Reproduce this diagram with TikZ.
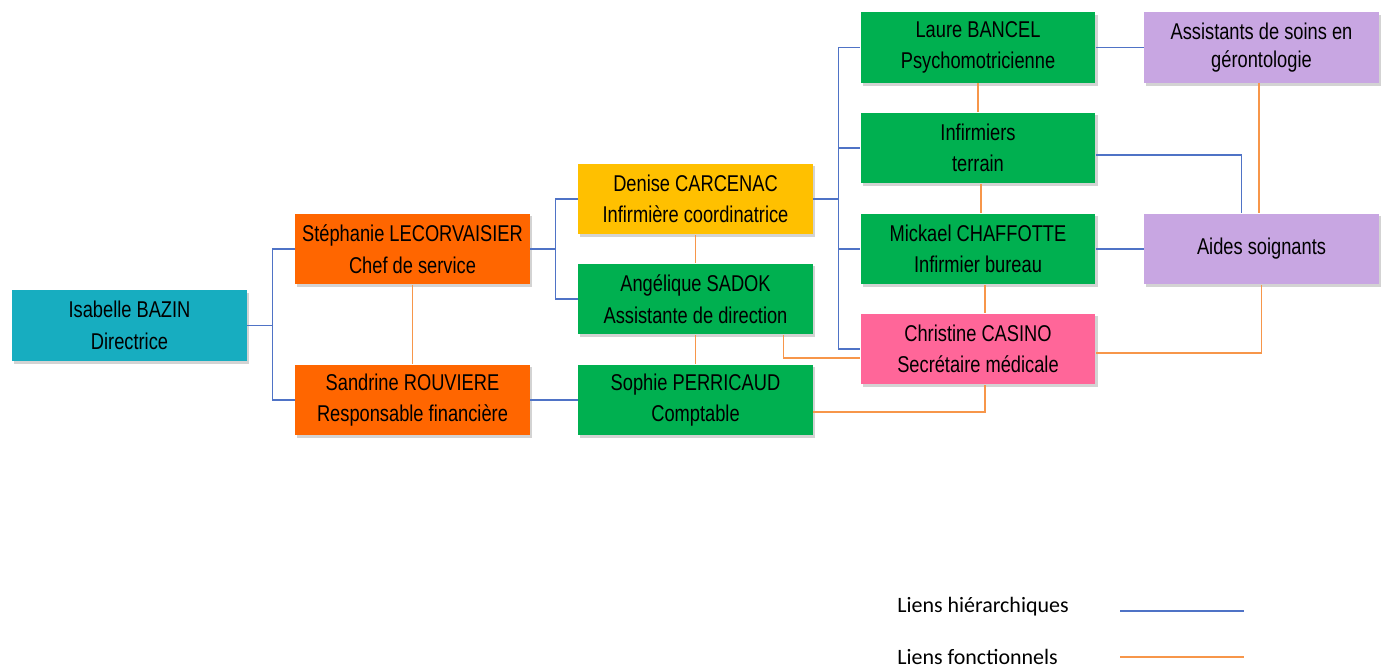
\documentclass[tikz,border=0pt]{standalone}
\usepackage{fontspec}
\usepackage{tikz}
\usetikzlibrary{shadows}
\newfontfamily\boxfont[FakeStretch=0.8]{Liberation Sans}
\newfontfamily\legfont{Carlito}

\definecolor{teal}{HTML}{17ADC0}
\definecolor{orangebox}{HTML}{FF6600}
\definecolor{yellowbox}{HTML}{FFC000}
\definecolor{greenbox}{HTML}{00B050}
\definecolor{pinkbox}{HTML}{FF6699}
\definecolor{lilac}{HTML}{C8A6E2}
\definecolor{hierblue}{HTML}{4F73C6}
\definecolor{fonctor}{HTML}{F7964A}

\tikzset{
	poste/.style={minimum width=4.7cm, minimum height=1.42cm, inner sep=0pt,
		align=center, font=\boxfont\fontsize{13}{18}\selectfont,
		drop shadow={shadow xshift=1.2pt, shadow yshift=-1.5pt, opacity=0.35}},
	hier/.style={hierblue, line width=0.8pt},
	fonct/.style={fonctor, line width=0.8pt},
}

\begin{document}
\begin{tikzpicture}[x=0.02cm, y=-0.02cm]
	
	\useasboundingbox (0,0) rectangle (1387,669);
	
	\node[poste, fill=teal] (bazin) at (129.5,325.5) {Isabelle BAZIN\\Directrice};
	\node[poste, fill=orangebox] (lecorv) at (412.5,249) {Stéphanie LECORVAISIER\\Chef de service};
	\node[poste, fill=orangebox] (rouv) at (412.5,400) {Sandrine ROUVIERE\\Responsable financière};
	\node[poste, fill=yellowbox] (carc) at (695.5,199) {Denise CARCENAC\\Infirmière coordinatrice};
	\node[poste, fill=greenbox] (sadok) at (695.5,299) {Angélique SADOK\\Assistante de direction};
	\node[poste, fill=greenbox] (perri) at (695.5,400) {Sophie PERRICAUD\\Comptable};
	\node[poste, fill=greenbox] (bancel) at (978,47.5) {Laure BANCEL\\Psychomotricienne};
	\node[poste, fill=greenbox] (infirm) at (978,148) {Infirmiers\\terrain};
	\node[poste, fill=greenbox] (chaff) at (978,249) {Mickael CHAFFOTTE\\Infirmier bureau};
	\node[poste, fill=pinkbox] (casino) at (978,349) {Christine CASINO\\Secrétaire médicale};
	\node[poste, fill=lilac, font=\boxfont\fontsize{13}{16}\selectfont] (asg) at (1261.5,47.5) {Assistants de soins en\\gérontologie};
	\node[poste, fill=lilac] (aides) at (1261.5,249) {Aides soignants};
	
	% liens hierarchiques
	\foreach \n in {lecorv, rouv}
		\draw[hier] (bazin.east) -- ++(25,0) |- (\n.west);
	\foreach \n in {carc, sadok}
		\draw[hier] (lecorv.east) -- ++(25,0) |- (\n.west);
	\draw[hier] (rouv.east) -- (perri.west);
	\foreach \n in {bancel, infirm, chaff, casino}
		\draw[hier] (carc.east) -- ++(25,0) |- (\n.west);
	\draw[hier] (bancel.east) -- (asg.west);
	\draw[hier] (chaff.east) -- (aides.west);
	\draw[hier] ([yshift=-0.14cm]infirm.east) -| ([xshift=-0.4cm]aides.north);
	
	% liens fonctionnels
	\draw[fonct] (lecorv.south) -- (rouv.north);
	\draw[fonct] (carc.south) -- (sadok.north);
	\draw[fonct] (sadok.south) -- (perri.north);
	\draw[fonct] (bancel.south) -- (infirm.north);
	\draw[fonct] ([xshift=0.06cm]infirm.south) -- ([xshift=0.06cm]chaff.north);
	\draw[fonct] ([xshift=0.14cm]chaff.south) -- ([xshift=0.14cm]casino.north);
	\draw[fonct] ([xshift=-0.05cm]asg.south) -- ([xshift=-0.05cm]aides.north);
	\draw[fonct] (aides.south) |- ([yshift=-0.08cm]casino.east);
	\draw[fonct] ([xshift=-0.6cm]sadok.south east) |- ([yshift=-0.18cm]casino.west);
	\draw[fonct] ([yshift=-0.24cm]perri.east) -| ([xshift=0.14cm]casino.south);
	
	% legende
	\node[anchor=west, inner sep=0pt, font=\legfont\fontsize{12.5}{14}\selectfont] (leghier) at (897,607) {Liens hiérarchiques};
	\node[anchor=west, inner sep=0pt, font=\legfont\fontsize{12.5}{14}\selectfont] (legfonct) at (897,657) {Liens fonctionnels};
	\coordinate (h1) at (1120,611);
	\coordinate (h2) at (1244,611);
	\coordinate (f1) at (1120,657);
	\coordinate (f2) at (1244,657);
	\draw[hier] (h1) -- (h2);
	\draw[fonct] (f1) -- (f2);
	
\end{tikzpicture}
\end{document}
